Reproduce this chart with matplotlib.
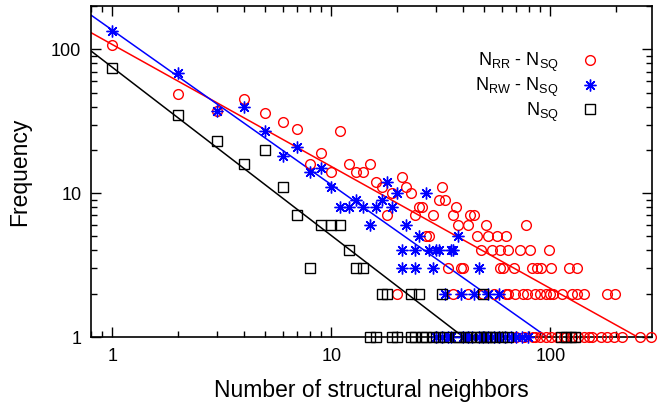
import numpy as np
import matplotlib
matplotlib.use("Agg")
import matplotlib.pyplot as plt

plt.rcParams['font.family'] = ['Liberation Sans', 'DejaVu Sans']

# ---- data: N_RR - N_SQ (red circles)
rr_x = [1, 2, 3, 4, 5, 6, 7, 8, 9, 10, 11, 12, 13, 14, 15, 16, 17, 18, 19, 20,
        21, 22, 23, 24, 25, 26, 27, 28, 29, 31, 32, 33, 34, 36, 36, 37, 38, 39, 40,
        42, 42, 43, 45, 46, 48, 49, 51, 52, 54, 55, 57, 59, 59, 61, 63, 63, 64, 64,
        68, 69, 73, 75, 77, 78, 81, 82, 85, 87, 90, 91, 95, 98, 100, 101, 103, 113,
        121, 125, 132, 132, 142, 182, 198]
rr_y = [107, 49, 37, 45, 36, 31, 28, 16, 19, 14, 27, 16, 14, 14, 16, 12, 11, 7, 10, 2,
        13, 11, 10, 7, 8, 8, 5, 5, 7, 9, 11, 9, 3, 7, 2, 8, 6, 3, 3,
        6, 2, 7, 7, 5, 4, 2, 6, 5, 4, 2, 5, 3, 4, 3, 5, 2, 4, 2,
        3, 2, 4, 2, 6, 2, 4, 3, 2, 3, 2, 3, 2, 4, 2, 3, 2, 2,
        3, 2, 3, 2, 2, 2, 2]
rr_x1 = [70, 76, 83, 85, 90, 95, 101, 107, 115, 118, 125, 134, 142, 150, 155,
         171, 181, 195, 212, 257, 288]

# ---- data: N_RW - N_SQ (blue asterisks)
rw_x = [1, 2, 3, 4, 5, 6, 7, 8, 9, 10, 11, 12, 13, 14, 15, 16, 17, 18, 19, 20,
        21, 21, 22, 24, 24, 25, 27, 28, 29, 30, 31, 33, 35, 36, 38, 39, 45, 47, 52, 58]
rw_y = [133, 68, 37, 40, 27, 18, 21, 14, 15, 11, 8, 8, 9, 8, 6, 8, 9, 12, 8, 10,
        4, 3, 6, 4, 3, 5, 10, 4, 3, 4, 4, 2, 4, 4, 5, 2, 2, 3, 2, 2]
rw_x1 = [30, 32, 34, 35, 40, 42, 44, 47, 49, 52, 55, 58, 62, 66, 70, 74, 79]

# ---- data: N_SQ (black squares)
sq_x = [1, 2, 3, 4, 5, 6, 7, 8, 9, 10, 11, 12, 13, 14, 17, 18, 23, 25, 32, 49]
sq_y = [74, 35, 23, 16, 20, 11, 7, 3, 6, 6, 6, 4, 3, 3, 2, 2, 2, 2, 2, 2]
sq_x1 = [15, 16, 19, 20, 23, 24, 26, 27, 29, 31, 33, 37, 38, 41, 43, 46, 48,
         51, 53, 56, 60, 64, 112, 118, 124, 130]

# ---- power-law fits y = A * x^(-b)
fit_A = [108.0, 136.0, 75.0]
fit_b = [0.848, 1.075, 1.17]

labels = [r'$\mathregular{N_{RR}}$ - $\mathregular{N_{SQ}}$',
          r'$\mathregular{N_{RW}}$ - $\mathregular{N_{SQ}}$',
          r'$\mathregular{N_{SQ}}$']
colors = ['#ff0000', '#0000ff', '#000000']

fig = plt.figure(figsize=(6.61, 4.13), dpi=100)
ax = fig.add_axes([0.1377, 0.184, 0.986 - 0.1377, 0.9855 - 0.184])
ax.set_xscale('log')
ax.set_yscale('log')
xlim = (0.8, 290)
ax.set_xlim(*xlim)
ax.set_ylim(1, 200)

xs_all = [rr_x + rr_x1, rw_x + rw_x1, sq_x + sq_x1]
ys_all = [rr_y + [1] * len(rr_x1), rw_y + [1] * len(rw_x1), sq_y + [1] * len(sq_x1)]
markers = ['o', (8, 2, 0), 's']
msizes = [7, 8.5, 6.5]

xl = np.array(xlim)
for A, b, c in zip(fit_A, fit_b, colors):
    ax.plot(xl, A * xl ** (-b), color=c, lw=1.1, zorder=2)

handles = []
for xs, ys, c, m, ms, lab in zip(xs_all, ys_all, colors, markers, msizes, labels):
    if m == 'o' or m == 's':
        h, = ax.plot(xs, ys, linestyle='none', marker=m, ms=ms, mfc='none',
                     mec=c, mew=1.0, label=lab, clip_on=False, zorder=3)
    else:
        h, = ax.plot(xs, ys, linestyle='none', marker=m, ms=ms, color=c,
                     mec=c, mew=1.0, label=lab, clip_on=False, zorder=3)
    handles.append(h)

ax.legend(handles=handles, loc='upper right', bbox_to_anchor=(0.918, 0.885),
          frameon=False, markerfirst=False, fontsize=13, handlelength=1.0,
          handletextpad=1.2, labelspacing=0.08, borderaxespad=0)

ax.set_xticks([1, 10, 100])
ax.set_xticklabels(['1', '10', '100'])
ax.set_yticks([1, 10, 100])
ax.set_yticklabels(['1', '10', '100'])
ax.xaxis.set_minor_formatter(matplotlib.ticker.NullFormatter())
ax.yaxis.set_minor_formatter(matplotlib.ticker.NullFormatter())
ax.tick_params(which='both', direction='in', top=True, right=True, width=1.0,
               labelsize=13, color='black')
ax.tick_params(which='major', length=7.5)
ax.tick_params(which='minor', length=4.3)
ax.tick_params(axis='x', which='major', pad=8)
ax.tick_params(axis='y', which='major', pad=7)
for s in ax.spines.values():
    s.set_linewidth(1.2)

ax.set_xlabel('Number of structural neighbors', fontsize=16.5, labelpad=10)
ax.set_ylabel('Frequency', fontsize=16.5, labelpad=14)

fig.savefig('out.png', dpi=100)
